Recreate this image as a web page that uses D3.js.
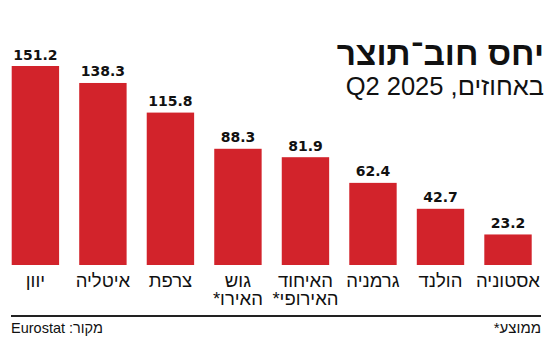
<!DOCTYPE html>
<html><head><meta charset="utf-8">
<script src="https://cdn.jsdelivr.net/npm/d3@7"></script>
<style>html,body{margin:0;padding:0;background:#fff;}svg{display:block;}</style>
</head><body>
<script>
const categories = [["יוון"],["איטליה"],["צרפת"],["גוש","האירו*"],["האיחוד","האירופי*"],["גרמניה"],["הולנד"],["אסטוניה"]];
const values = [151.2,138.3,115.8,88.3,81.9,62.4,42.7,23.2];
const title = "יחס חוב־תוצר";
const subtitle = "באחוזים, Q2 2025";
const sourceText = "מקור: Eurostat";
const noteText = "ממוצע*";

const W=550,H=344;
const svg=d3.select("body").append("svg").attr("width",W).attr("height",H);
const x=d3.scaleBand().domain(d3.range(values.length)).range([11.7,531.7]).paddingInner(0.298).paddingOuter(0);
const y=d3.scaleLinear().domain([0,151.2]).range([265,66]);
const bw=x.bandwidth();
const g=svg.append("g");
g.selectAll("rect").data(values).join("rect")
 .attr("x",(d,i)=>x(i)).attr("y",d=>y(d)).attr("width",bw).attr("height",d=>y(0)-y(d))
 .attr("fill","#d2232b");
g.selectAll("text.v").data(values).join("text").attr("class","v")
 .attr("x",(d,i)=>x(i)+bw/2).attr("y",d=>y(d)-6.5).attr("text-anchor","middle")
 .attr("font-family","DejaVu Sans").attr("font-weight","bold").attr("font-size",14).attr("fill","#111")
 .text(d=>d.toFixed(1));
const lab=g.selectAll("text.c").data(categories).join("text").attr("class","c")
 .attr("x",(d,i)=>x(i)+bw/2).attr("y",286.5).attr("text-anchor","middle").attr("direction","rtl")
 .attr("font-family","Liberation Sans").attr("font-size",18.5).attr("fill","#111");
lab.selectAll("tspan").data((d,i)=>d.map(s=>({s,i}))).join("tspan")
 .attr("x",d=>x(d.i)+bw/2).attr("dy",(d,j)=>j?18:0).text(d=>d.s);

svg.append("text").attr("x",544).attr("y",65).attr("direction","rtl").attr("text-anchor","start")
 .attr("font-family","Liberation Sans").attr("font-weight","bold").attr("font-size",33.5).attr("fill","#111").text(title);
svg.append("text").attr("x",544).attr("y",94.5).attr("direction","rtl").attr("text-anchor","start")
 .attr("font-family","Liberation Sans").attr("font-size",25.5).attr("fill","#111").text(subtitle);

svg.append("line").attr("x1",11).attr("x2",541).attr("y1",316).attr("y2",316).attr("stroke","#222").attr("stroke-width",2);
svg.append("text").attr("x",11).attr("y",333).attr("direction","rtl").attr("text-anchor","end")
 .attr("font-family","Liberation Sans").attr("font-size",14.5).attr("fill","#111").text(sourceText);
svg.append("text").attr("x",541).attr("y",333).attr("direction","rtl").attr("text-anchor","start")
 .attr("font-family","Liberation Sans").attr("font-size",15).attr("fill","#111").text(noteText);
</script>
</body></html>
